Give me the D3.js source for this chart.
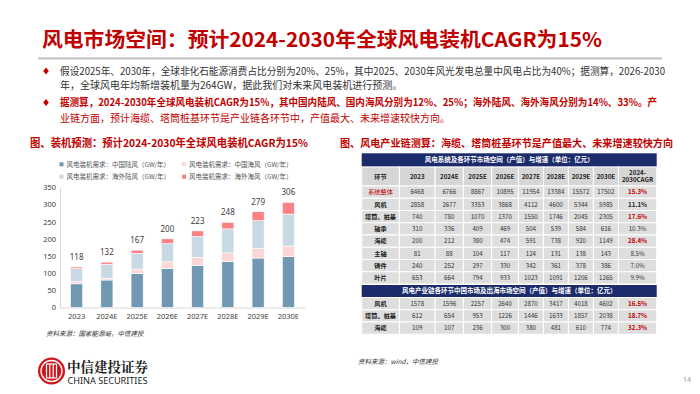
<!DOCTYPE html>
<html>
<head>
<meta charset="utf-8">
<script src="https://cdn.jsdelivr.net/npm/d3@7"></script>
<style>
  body { margin: 0; background: #fff; }
  svg { display: block; font-family: "Noto Sans CJK SC", "Noto Sans", sans-serif; }
</style>
</head>
<body>
<svg id="slide" width="700" height="394"></svg>
<script>
// ---- data ----
var years = ["2023", "2024E", "2025E", "2026E", "2027E", "2028E", "2029E", "2030E"];
var seriesNames = ["风电装机需求：中国陆风（GW/年）", "风电装机需求：中国海风（GW/年）",
                   "风电装机需求：海外陆风（GW/年）", "风电装机需求：海外海风（GW/年）"];
var cnOnshore  = [69, 80, 99, 114, 123, 134, 144, 148];
var cnOffshore = [6, 5, 13, 19, 23, 25, 28, 31];
var osOnshore  = [39, 41, 46, 53, 61, 70, 81, 93];
var osOffshore = [4, 6, 9, 14, 16, 19, 26, 34];
var yTicks = [0, 50, 100, 150, 200, 250, 300, 350];

var tableHead = ["环节", "2023", "2024E", "2025E", "2026E", "2027E", "2028E", "2029E", "2030E", "2024-|2030CAGR"];
var tableTitle1 = "风电系统及各环节市场空间（产值）与增速（单位：亿元）";
var tableTitle2 = "风电产业链各环节中国市场及出海市场空间（产值）与增速（单位：亿元）";
var rows1 = [
  ["系统整体", 6468, 6766, 8867, 10895, 11954, 13384, 15572, 17502, "15.3%"],
  ["风机", 2858, 2677, 3353, 3868, 4112, 4600, 5344, 5985, "11.1%"],
  ["塔筒、桩基", 740, 780, 1070, 1370, 1550, 1746, 2045, 2305, "17.6%"],
  ["轴承", 310, 336, 409, 469, 504, 539, 584, 616, "10.3%"],
  ["海缆", 200, 212, 380, 474, 591, 738, 920, 1149, "28.4%"],
  ["主轴", 81, 88, 104, 117, 124, 131, 138, 143, "8.5%"],
  ["铸件", 240, 252, 297, 330, 342, 361, 378, 386, "7.0%"],
  ["叶片", 653, 664, 794, 933, 1023, 1091, 1206, 1265, "9.9%"]
];
var rows2 = [
  ["风机", 1578, 1596, 2257, 2640, 2870, 3417, 4018, 4602, "16.5%"],
  ["塔筒、桩基", 612, 654, 953, 1226, 1446, 1633, 1857, 2038, "18.7%"],
  ["海缆", 109, 107, 236, 300, 380, 481, 610, 774, "32.3%"]
];
var redCagr = ["15.3%", "17.6%", "28.4%", "16.5%", "18.7%", "32.3%"];
var boldCagr = ["11.1%"];

var pageTitle = "风电市场空间：预计2024-2030年全球风电装机CAGR为15%";
var bullet1 = ["假设2025年、2030年，全球非化石能源消费占比分别为20%、25%，其中2025、2030年风光发电总量中风电占比为40%；据测算，2026-2030",
               "年，全球风电年均新增装机量为264GW，据此我们对未来风电装机进行预测。"];
var bullet2 = ["据测算，2024-2030年全球风电装机CAGR为15%，其中国内陆风、国内海风分别为12%、25%；海外陆风、海外海风分别为14%、33%。产",
               "业链方面，预计海缆、塔筒桩基环节是产业链各环节中，产值最大、未来增速较快方向。"];
var chartTitle1 = "图、装机预测：预计2024-2030年全球风电装机CAGR为15%";
var chartTitle2 = "图、风电产业链测算：海缆、塔筒桩基环节是产值最大、未来增速较快方向";
var source1 = "资料来源：国家能源局，中信建投";
var source2 = "资料来源：wind，中信建投";

var RED = "#c00000";
var colors = ["#7098b3", "#fcd5d7", "#c9d9e4", "#fb8282"];

var svg = d3.select("#slide");

// ---- header ----
svg.append("text").attr("x", 42).attr("y", 47)
  .attr("font-size", 20).attr("font-weight", "bold").attr("fill", RED)
  .attr("textLength", 560).attr("lengthAdjust", "spacingAndGlyphs")
  .text(pageTitle);
svg.append("line").attr("x1", 38).attr("x2", 662).attr("y1", 58.5).attr("y2", 58.5)
  .attr("stroke", "#bfbfbf").attr("stroke-width", 2);

function diamond(x, y) {
  svg.append("path")
    .attr("d", "M" + x + "," + (y - 3.5) + "L" + (x + 2.8) + "," + y + "L" + x + "," + (y + 3.5) + "L" + (x - 2.8) + "," + y + "Z")
    .attr("fill", RED);
}
diamond(46, 71);
diamond(46, 102.5);

svg.append("text").attr("x", 60).attr("y", 74.5).attr("font-size", 10).attr("fill", "#333")
  .attr("textLength", 605).attr("lengthAdjust", "spacingAndGlyphs").text(bullet1[0]);
svg.append("text").attr("x", 60).attr("y", 89).attr("font-size", 10).attr("fill", "#333").text(bullet1[1]);
svg.append("text").attr("x", 60).attr("y", 106).attr("font-size", 10).attr("fill", RED).attr("font-weight", "bold")
  .attr("textLength", 597).attr("lengthAdjust", "spacingAndGlyphs").text(bullet2[0]);
svg.append("text").attr("x", 60).attr("y", 122).attr("font-size", 10).attr("fill", RED).text(bullet2[1]);

svg.append("text").attr("x", 30).attr("y", 147).attr("font-size", 10.8).attr("font-weight", "bold").attr("fill", RED)
  .attr("textLength", 278).attr("lengthAdjust", "spacingAndGlyphs").text(chartTitle1);
svg.append("text").attr("x", 340).attr("y", 147).attr("font-size", 10.2).attr("font-weight", "bold").attr("fill", RED)
  .attr("textLength", 333).attr("lengthAdjust", "spacingAndGlyphs").text(chartTitle2);

// ---- stacked bar chart ----
var data = years.map(function(y, i) {
  return { year: y, s0: cnOnshore[i], s1: cnOffshore[i], s2: osOnshore[i], s3: osOffshore[i] };
});
var keys = ["s0", "s1", "s2", "s3"];
var stack = d3.stack().keys(keys)(data);

var x = d3.scaleBand().domain(years).range([60, 305]).paddingInner(0.6).paddingOuter(0.35);
var y = d3.scaleLinear().domain([0, 350]).range([307.5, 187.3]);

var gy = svg.append("g").attr("transform", "translate(60,0)")
  .call(d3.axisLeft(y).tickValues(yTicks).tickSize(0).tickPadding(4));
gy.select(".domain").attr("stroke", "#d9d9d9");
gy.selectAll("text").attr("font-size", 7.5).attr("fill", "#404040").attr("font-family", "Noto Sans, sans-serif");

var gx = svg.append("g").attr("transform", "translate(0,307.5)")
  .call(d3.axisBottom(x).tickSize(0).tickPadding(6));
gx.select(".domain").attr("stroke", "#d9d9d9");
gx.selectAll("text").attr("font-size", 7.5).attr("fill", "#404040").attr("font-family", "Noto Sans, sans-serif");

svg.append("g").selectAll("g").data(stack).enter().append("g")
  .attr("fill", function(d, i) { return colors[i]; })
  .selectAll("rect").data(function(d) { return d; }).enter().append("rect")
  .attr("x", function(d) { return x(d.data.year); })
  .attr("y", function(d) { return y(d[1]); })
  .attr("width", x.bandwidth())
  .attr("height", function(d) { return y(d[0]) - y(d[1]); })
  .attr("stroke", "#fff").attr("stroke-width", 0.6);

svg.append("g").selectAll("text").data(data).enter().append("text")
  .attr("x", function(d) { return x(d.year) + x.bandwidth() / 2; })
  .attr("y", function(d) { return y(d.s0 + d.s1 + d.s2 + d.s3) - 7; })
  .attr("text-anchor", "middle").attr("font-size", 8).attr("fill", "#404040")
  .attr("font-family", "Noto Sans, sans-serif")
  .text(function(d) { return d.s0 + d.s1 + d.s2 + d.s3; });

// legend
var leg = svg.append("g").selectAll("g").data(seriesNames).enter().append("g")
  .attr("transform", function(d, i) { return "translate(" + (i % 2 ? 184 : 61.5) + "," + (i < 2 ? 164.3 : 176.7) + ")"; });
leg.append("rect").attr("x", -2).attr("y", -2).attr("width", 4).attr("height", 4)
  .attr("fill", function(d, i) { return colors[i]; });
leg.append("text").attr("x", 5).attr("y", 2.5).attr("font-size", 6.5).attr("fill", "#555")
  .text(function(d) { return d; });

svg.append("text").attr("x", 46).attr("y", 335.5).attr("font-size", 6.5).attr("fill", "#333")
  .attr("font-style", "italic").text(source1);

// ---- table ----
var colW = [37.7, 35.7, 28.3, 28.3, 26.7, 25, 25, 25, 25, 38.3];
var colX = [361.7];
colW.forEach(function(w) { colX.push(colX[colX.length - 1] + w); });
var tLeft = colX[0], tRight = colX[colX.length - 1];
var rowH = 12.25;
var tg = svg.append("g");

function titleBar(y0, h, label) {
  tg.append("rect").attr("x", tLeft).attr("y", y0).attr("width", tRight - tLeft).attr("height", h).attr("fill", "#1b2b6b");
  tg.append("text").attr("x", (tLeft + tRight) / 2).attr("y", y0 + h / 2 + 2.3).attr("text-anchor", "middle")
    .attr("font-size", 6.5).attr("font-weight", "bold").attr("fill", "#fff").text(label);
}

function cellRow(y0, h, cells, isHead) {
  cells.forEach(function(c, j) {
    tg.append("rect").attr("x", colX[j]).attr("y", y0).attr("width", colW[j]).attr("height", h)
      .attr("fill", isHead ? "#d6d6d6" : "#dedede").attr("stroke", "#fff").attr("stroke-width", 1);
    var cx = colX[j] + colW[j] / 2;
    var str = String(c);
    var fill = "#333", weight = "normal";
    if (isHead || j === 0) { weight = "bold"; fill = "#222"; }
    if (!isHead && j === 0 && str === "系统整体") { fill = RED; weight = "normal"; }
    if (!isHead && j === cells.length - 1) {
      if (redCagr.indexOf(str) >= 0) { fill = RED; weight = "bold"; }
      else if (boldCagr.indexOf(str) >= 0) { fill = "#222"; weight = "bold"; }
    }
    var parts = str.split("|");
    parts.forEach(function(p, k) {
      tg.append("text").attr("x", cx)
        .attr("y", y0 + h / 2 + 2.2 + (k - (parts.length - 1) / 2) * 7.5)
        .attr("text-anchor", "middle").attr("font-size", 6.2).attr("font-weight", weight).attr("fill", fill)
        .text(p);
    });
  });
}

titleBar(153.3, 13.4, tableTitle1);
cellRow(167, 19, tableHead, true);
rows1.forEach(function(r, i) { cellRow(186 + i * rowH, rowH, r, false); });
titleBar(285, 12, tableTitle2);
rows2.forEach(function(r, i) { cellRow(297.5 + i * rowH, rowH, r, false); });

svg.append("text").attr("x", 358).attr("y", 364).attr("font-size", 6.5).attr("fill", "#333")
  .attr("font-style", "italic").text(source2);

// ---- logo & page number ----
var logo = svg.append("g").attr("transform", "translate(51.5,371)");
logo.append("circle").attr("r", 13.5).attr("fill", "#d2161e");
logo.append("circle").attr("r", 10.5).attr("fill", "none").attr("stroke", "#fff").attr("stroke-width", 1.3);
[-5, -1.7, 1.7, 5].forEach(function(dx) {
  logo.append("line").attr("x1", dx).attr("x2", dx).attr("y1", -7).attr("y2", 7).attr("stroke", "#fff").attr("stroke-width", 1.2);
});
logo.append("line").attr("x1", -5).attr("x2", 5).attr("y1", -7).attr("y2", -7).attr("stroke", "#fff").attr("stroke-width", 1.2);
logo.append("line").attr("x1", -5).attr("x2", 5).attr("y1", 7).attr("y2", 7).attr("stroke", "#fff").attr("stroke-width", 1.2);
svg.append("text").attr("x", 67).attr("y", 372).attr("font-size", 13.5).attr("font-weight", "bold").attr("fill", "#222")
  .attr("font-family", "Noto Serif CJK SC, Noto Sans CJK SC, serif")
  .attr("textLength", 81).attr("lengthAdjust", "spacingAndGlyphs").text("中信建投证券");
svg.append("text").attr("x", 67.5).attr("y", 383.5).attr("font-size", 8).attr("fill", "#222")
  .attr("font-family", "Noto Sans, sans-serif")
  .attr("textLength", 80).attr("lengthAdjust", "spacingAndGlyphs").text("CHINA SECURITIES");
svg.append("text").attr("x", 683).attr("y", 382).attr("font-size", 7).attr("fill", "#999")
  .attr("font-family", "Noto Sans, sans-serif").text("14");
</script>
</body>
</html>
